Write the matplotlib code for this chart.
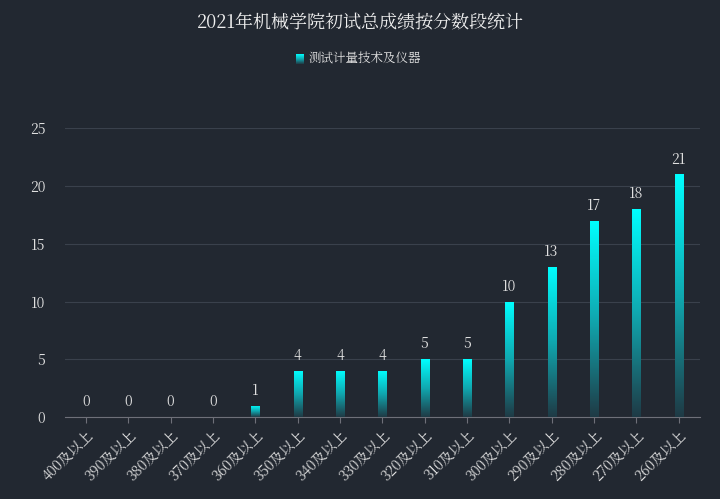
import matplotlib
matplotlib.use("Agg")
import matplotlib.pyplot as plt
from matplotlib import font_manager as fm
import numpy as np
from matplotlib.colors import LinearSegmentedColormap

cjk = [f.name for f in fm.fontManager.ttflist if "CJK" in f.name]
pref = [n for n in cjk if "SC" in n] or cjk
plt.rcParams['font.family'] = 'sans-serif'
plt.rcParams['font.sans-serif'] = (pref[:1] if pref else []) + ['Noto Sans CJK SC', 'DejaVu Sans']

categories = ["400及以上","390及以上","380及以上","370及以上","360及以上","350及以上","340及以上",
              "330及以上","320及以上","310及以上","300及以上","290及以上","280及以上","270及以上","260及以上"]
values = [0,0,0,0,1,4,4,4,5,5,10,13,17,18,21]
series_name = "测试计量技术及仪器"
title = "2021年机械学院初试总成绩按分数段统计"

bg = "#222831"
fig = plt.figure(figsize=(7.2, 4.99), dpi=100, facecolor=bg)
ax = fig.add_axes([0.09, 0.164, 0.882, 0.579], facecolor=bg)

x = np.arange(len(categories))
w = 0.19
grad = np.linspace(0, 1, 256).reshape(-1, 1)
cmap = LinearSegmentedColormap.from_list("g", ["#1f3a45", "#10a8b0", "#00ffff"])
bars = ax.bar(x, values, width=w, color="none")
for b, v in zip(bars, values):
    if v <= 0:
        continue
    im = ax.imshow(grad, cmap=cmap, origin="lower", aspect="auto",
                   extent=[b.get_x(), b.get_x() + w, 0, v], zorder=3)
    im.set_clip_path(b)
for xi, v in zip(x, values):
    ax.text(xi, v + 0.6, str(v), ha="center", va="bottom", color="#e0e0e0", fontsize=10)

ax.set_xlim(-0.5, len(categories) - 0.5)
ax.set_ylim(0, 25)
ax.set_yticks([0, 5, 10, 15, 20, 25])
ax.yaxis.grid(True, color="#3a414c", linewidth=0.8)
ax.set_axisbelow(True)
ax.set_xticks(x)
ax.set_xticklabels(categories, rotation=45, ha="right", rotation_mode="anchor", fontsize=10, color="#e0e0e0")
ax.tick_params(axis="y", colors="#e0e0e0", length=0, labelsize=10, pad=14)
ax.tick_params(axis="x", colors="#6e7079", length=4)
for s in ["top", "right", "left"]:
    ax.spines[s].set_visible(False)
ax.spines["bottom"].set_color("#6e7079")
for lbl in ax.get_xticklabels():
    lbl.set_color("#e0e0e0")

fig.text(0.5, 0.955, title, ha="center", va="center", color="#f0f0f0", fontsize=13)
lax = fig.add_axes([296/720, 1 - 64/499, 8/720, 10/499])
lax.imshow(grad, cmap=cmap, origin="lower", aspect="auto")
lax.axis("off")
fig.text(309/720, 1 - 58/499, series_name, ha="left", va="center", color="#e0e0e0", fontsize=9)

fig.savefig("out.png", dpi=100, facecolor=bg)
